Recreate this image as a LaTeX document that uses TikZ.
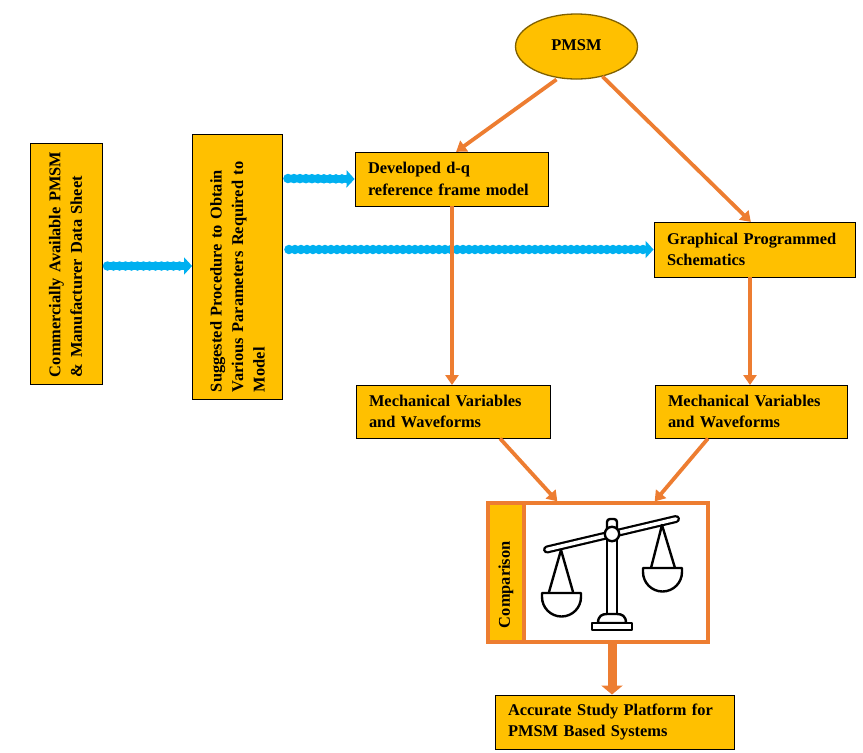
\documentclass[tikz,border=0pt]{standalone}
\usepackage{fontspec}
\setmainfont{Liberation Serif}
\usetikzlibrary{arrows.meta,shapes.geometric,calc}
\definecolor{boxfill}{HTML}{FFC000}
\definecolor{flow}{HTML}{ED7D31}
\definecolor{feed}{HTML}{00B0F0}
\definecolor{goldline}{HTML}{7F6000}
\tikzset{
  x=1pt,y=-1pt,
  txt/.style={font=\bfseries\fontsize{16.4}{21.5}\selectfont,text=black},
  hbox/.style={txt,draw=black,line width=0.9pt,fill=boxfill,inner sep=0pt,align=left,anchor=center},
  vbox/.style={hbox,rotate=90},
  flowline/.style={draw=flow,line width=3.8pt,-{Triangle[length=10pt,width=13pt]},shorten >=-0.5pt},
  fatflow/.style={draw=flow,line width=9pt,-{Triangle[length=9pt,width=21pt]}},
  feedline/.style={draw=feed,line width=7.5pt,-{Triangle[length=8pt,width=17pt]},
    postaction={draw=feed,line width=9.5pt,dash pattern=on 0pt off 6pt,line cap=round,arrows=-,shorten >=6pt}},
  ink/.style={draw=black,line width=2.4pt,line join=round},
}
\begin{document}
\begin{tikzpicture}
\useasboundingbox (0,0) rectangle (863,753);
% nodes
\node[ellipse,draw=goldline,line width=1.3pt,fill=boxfill,minimum width=122pt,minimum height=65pt,inner sep=0pt,txt] (pmsm) at (576.5,46.5) {\raisebox{2pt}{PMSM}};
\node[vbox,minimum width=241pt,minimum height=72pt,text width=227pt] (data) at (66.5,263.5) {\raisebox{2pt}{Commercially Available PMSM}\\\raisebox{2pt}{\& Manufacturer Data Sheet}};
\node[vbox,minimum width=265pt,minimum height=90pt,text width=251pt] (proc) at (237.5,266.5) {Suggested Procedure to Obtain\\Various Parameters Required to\\Model};
\node[hbox,minimum width=193pt,minimum height=54pt,text width=167pt] (dq) at (451.5,179) {Developed d-q\\reference frame model};
\node[hbox,minimum width=201pt,minimum height=55pt,text width=175pt] (gp) at (754.5,249.5) {Graphical Programmed\\Schematics};
\node[hbox,minimum width=194pt,minimum height=53pt,text width=168pt] (mva) at (453,411.5) {Mechanical Variables\\and Waveforms};
\node[hbox,minimum width=192pt,minimum height=53pt,text width=166pt] (mvb) at (751,411.5) {Mechanical Variables\\and Waveforms};
\node[hbox,minimum width=239pt,minimum height=54pt,text width=213pt] (final) at (614.5,722) {Accurate Study Platform for\\PMSM Based Systems};
\node[draw=flow,line width=4pt,fill=white,minimum width=220pt,minimum height=139pt,inner sep=0pt] (cmp) at (598,572.5) {};
\node[draw=flow,line width=4pt,fill=boxfill,minimum width=139pt,minimum height=36pt,inner sep=0pt,rotate=90,txt,text width=111pt,align=left] (cmplabel) at (506,572.5) {\raisebox{-2pt}{Comparison}};
% balance
\begin{scope}
  \draw[ink,fill=white] (607,534) -- (607,615) -- (617,615) -- (617,534) -- cycle;
  \draw[ink,fill=white] (598,623) .. controls (598,616) and (602,614) .. (607,614) -- (617,614) .. controls (622,614) and (626,616) .. (626,623) -- cycle;
  \draw[ink,fill=white] (592,623) rectangle (632,630);
  \draw[ink,fill=white,rounded corners=3pt] (607,534) -- (607,519) -- (617,519) -- (617,534) -- cycle;
  \draw[black,line width=8pt,line cap=round] (547,549.5) -- (676,519);
  \draw[white,line width=3.6pt,line cap=round] (547,549.5) -- (676,519);
  \draw[ink,fill=white] (612,534) circle (7.2pt);
  \draw[ink] (549,592) -- (561,550) -- (573,592);
  \draw[ink,fill=white] (542,593) -- (581,593) -- (581,597) arc[start angle=0,end angle=180,x radius=19.5pt,y radius=-19.5pt] -- cycle;
  \draw[ink] (651,568) -- (662,525) -- (675,568);
  \draw[ink,fill=white] (643,568) -- (682,568) -- (682,572) arc[start angle=0,end angle=180,x radius=19.5pt,y radius=-19.5pt] -- cycle;
\end{scope}
% connectors
\path (data.center |- 0,266) ++(41,0) coordinate (dataout);
\draw[feedline] (dataout) -- (proc.north |- 0,266);
\draw[feedline] ($(proc.south)+(5,-88)$) -- (dq.west);
\path (proc.south |- gp.west) ++(6,0) coordinate (procout);
\draw[feedline] (procout) -- (gp.west);
\draw[flowline] ($(pmsm.center)+(-20,33)$) -- ($(dq.north)+(5,0)$);
\draw[flowline] ($(pmsm.center)+(26,30)$) -- ($(gp.north)+(-4,0)$);
\draw[flowline] ($(dq.south)+(0.5,0)$) -- (mva.north -| 452,0);
\draw[flowline] (gp.south -| 750,0) -- (mvb.north -| 750,0);
\draw[flowline] ($(mva.south)+(47,0)$) -- ($(cmp.north)+(-41,0)$);
\draw[flowline] ($(mvb.south)+(-43,0)$) -- ($(cmp.north)+(57,0)$);
\draw[fatflow] (cmp.south -| final.north) ++(-2.5,0) -- ($(final.north)+(-2.5,0)$);
\end{tikzpicture}
\end{document}
